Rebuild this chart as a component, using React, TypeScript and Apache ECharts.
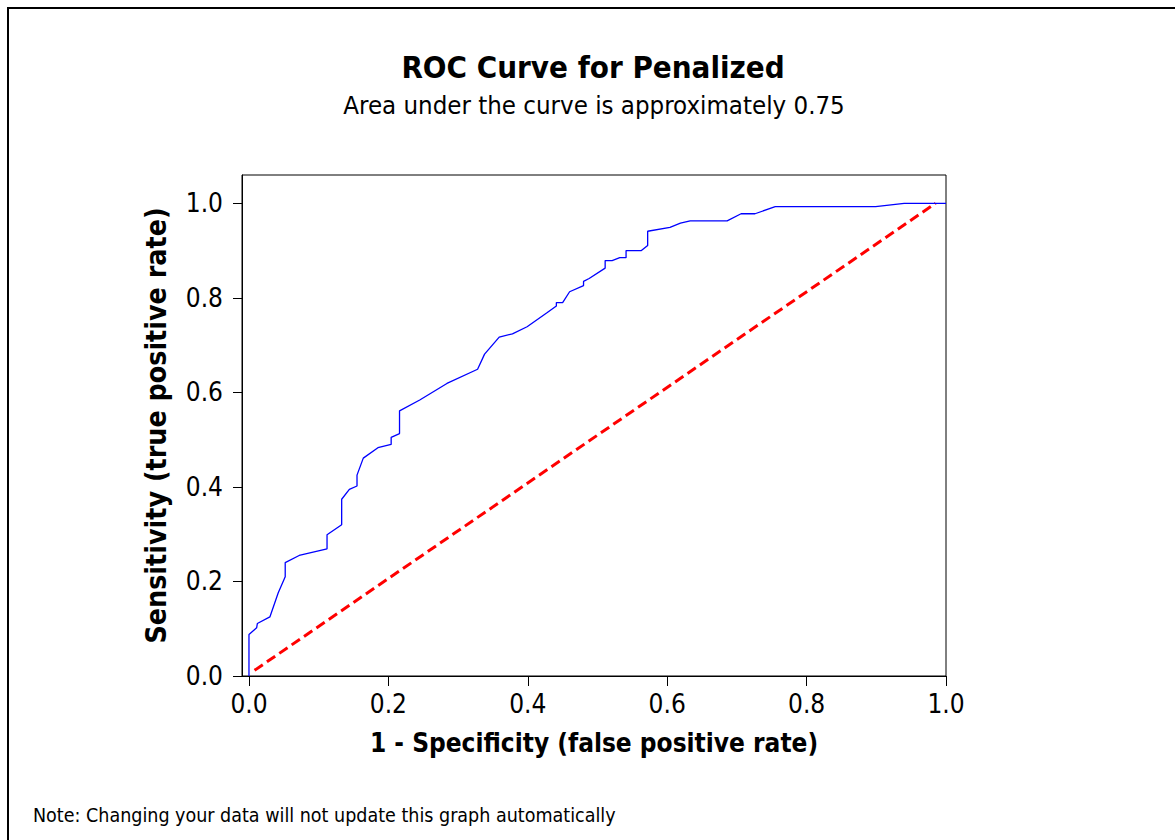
import React, { useEffect, useRef } from "react";
import * as echarts from "echarts";

// ROC curve points (false positive rate, true positive rate)
const fpr = [0, 0, 0.011, 0.012, 0.030, 0.042, 0.052, 0.052, 0.072, 0.112, 0.112, 0.133, 0.133, 0.144, 0.155, 0.155, 0.164, 0.185, 0.204, 0.204, 0.216, 0.216, 0.245, 0.284, 0.328, 0.338, 0.359, 0.378, 0.399, 0.427, 0.441, 0.441, 0.450, 0.460, 0.480, 0.480, 0.488, 0.511, 0.511, 0.521, 0.532, 0.541, 0.541, 0.563, 0.572, 0.572, 0.604, 0.619, 0.633, 0.686, 0.706, 0.726, 0.755, 0.899, 0.940, 1.0];
const tpr = [0, 0.088, 0.102, 0.111, 0.125, 0.176, 0.210, 0.240, 0.255, 0.269, 0.299, 0.320, 0.374, 0.395, 0.402, 0.425, 0.461, 0.483, 0.490, 0.505, 0.513, 0.561, 0.584, 0.619, 0.649, 0.681, 0.717, 0.724, 0.739, 0.768, 0.783, 0.790, 0.790, 0.813, 0.826, 0.835, 0.841, 0.863, 0.879, 0.879, 0.885, 0.885, 0.900, 0.900, 0.911, 0.941, 0.949, 0.958, 0.963, 0.963, 0.978, 0.978, 0.993, 0.993, 1.0, 1.0];

// Chance (reference) line
const chanceX = [0.008, 0.985];
const chanceY = [0.012, 1.0];

const tickValues = [0, 0.2, 0.4, 0.6, 0.8, 1.0];

const FONT = "'DejaVu Sans Condensed', 'DejaVu Sans', sans-serif";

export default function App() {
  const ref = useRef<HTMLDivElement>(null);

  useEffect(() => {
    if (!ref.current) return;
    const chart = echarts.init(ref.current, null, { renderer: "svg" });
    const axisCommon = {
      type: "value" as const,
      splitLine: { show: false },
      axisLine: { show: true, onZero: false, lineStyle: { color: "#000", width: 1 } },
      axisTick: { show: true, inside: false, length: 9, customValues: tickValues, lineStyle: { color: "#000", width: 1 } },
      nameLocation: "middle" as const,
      nameTextStyle: { fontFamily: FONT, fontWeight: "bold" as const, fontSize: 26, color: "#000" },
    };
    chart.setOption({
      animation: false,
      backgroundColor: "#fff",
      grid: {
        left: 242,
        top: 175,
        right: 229,
        bottom: 164,
        show: true,
        borderColor: "#000",
        borderWidth: 1,
        backgroundColor: "transparent",
      },
      xAxis: {
        ...axisCommon,
        min: -0.01,
        max: 1.0,
        name: "1 - Specificity (false positive rate)",
        nameGap: 54,
        axisTick: { ...axisCommon.axisTick, length: 10 },
        axisLabel: {
          customValues: tickValues,
          formatter: (v: number) => v.toFixed(1),
          fontFamily: FONT,
          fontSize: 26,
          color: "#000",
          margin: 15,
        },
      },
      yAxis: {
        ...axisCommon,
        min: 0,
        max: 1.06,
        name: "Sensitivity (true positive rate)",
        nameGap: 72,
        nameTextStyle: { ...axisCommon.nameTextStyle, fontSize: 28.3 },
        axisLabel: {
          customValues: tickValues,
          formatter: (v: number) => v.toFixed(1),
          fontFamily: FONT,
          fontSize: 26,
          color: "#000",
          margin: 19,
        },
      },
      graphic: [
        {
          type: "rect",
          shape: { x: 8, y: 8, width: 1300, height: 1000 },
          style: { fill: "none", stroke: "#000", lineWidth: 2 },
          silent: true,
        },
        {
          type: "text",
          x: 593,
          y: 67,
          style: {
            text: "ROC Curve for Penalized",
            font: `bold 31px ${FONT}`,
            fill: "#000",
            align: "center",
            verticalAlign: "middle",
          },
        },
        {
          type: "text",
          x: 594,
          y: 105,
          style: {
            text: "Area under the curve is approximately 0.75",
            font: `25.6px ${FONT}`,
            fill: "#000",
            align: "center",
            verticalAlign: "middle",
          },
        },
        {
          type: "text",
          x: 33,
          y: 815,
          style: {
            text: "Note: Changing your data will not update this graph automatically",
            font: `19.5px ${FONT}`,
            fill: "#000",
            align: "left",
            verticalAlign: "middle",
          },
        },
      ],
      series: [
        {
          type: "line",
          data: fpr.map((x, i) => [x, tpr[i]]),
          showSymbol: false,
          symbol: "none",
          lineStyle: { color: "#0000ff", width: 1.3 },
          z: 3,
        },
        {
          type: "line",
          data: chanceX.map((x, i) => [x, chanceY[i]]),
          showSymbol: false,
          symbol: "none",
          lineStyle: { color: "#ff0000", width: 3, type: [10, 5] },
          z: 2,
        },
      ],
    });
    return () => chart.dispose();
  }, []);

  return (
    <div
      ref={ref}
      style={{ position: "absolute", left: 0, top: 0, width: 1175, height: 840 }}
    />
  );
}
